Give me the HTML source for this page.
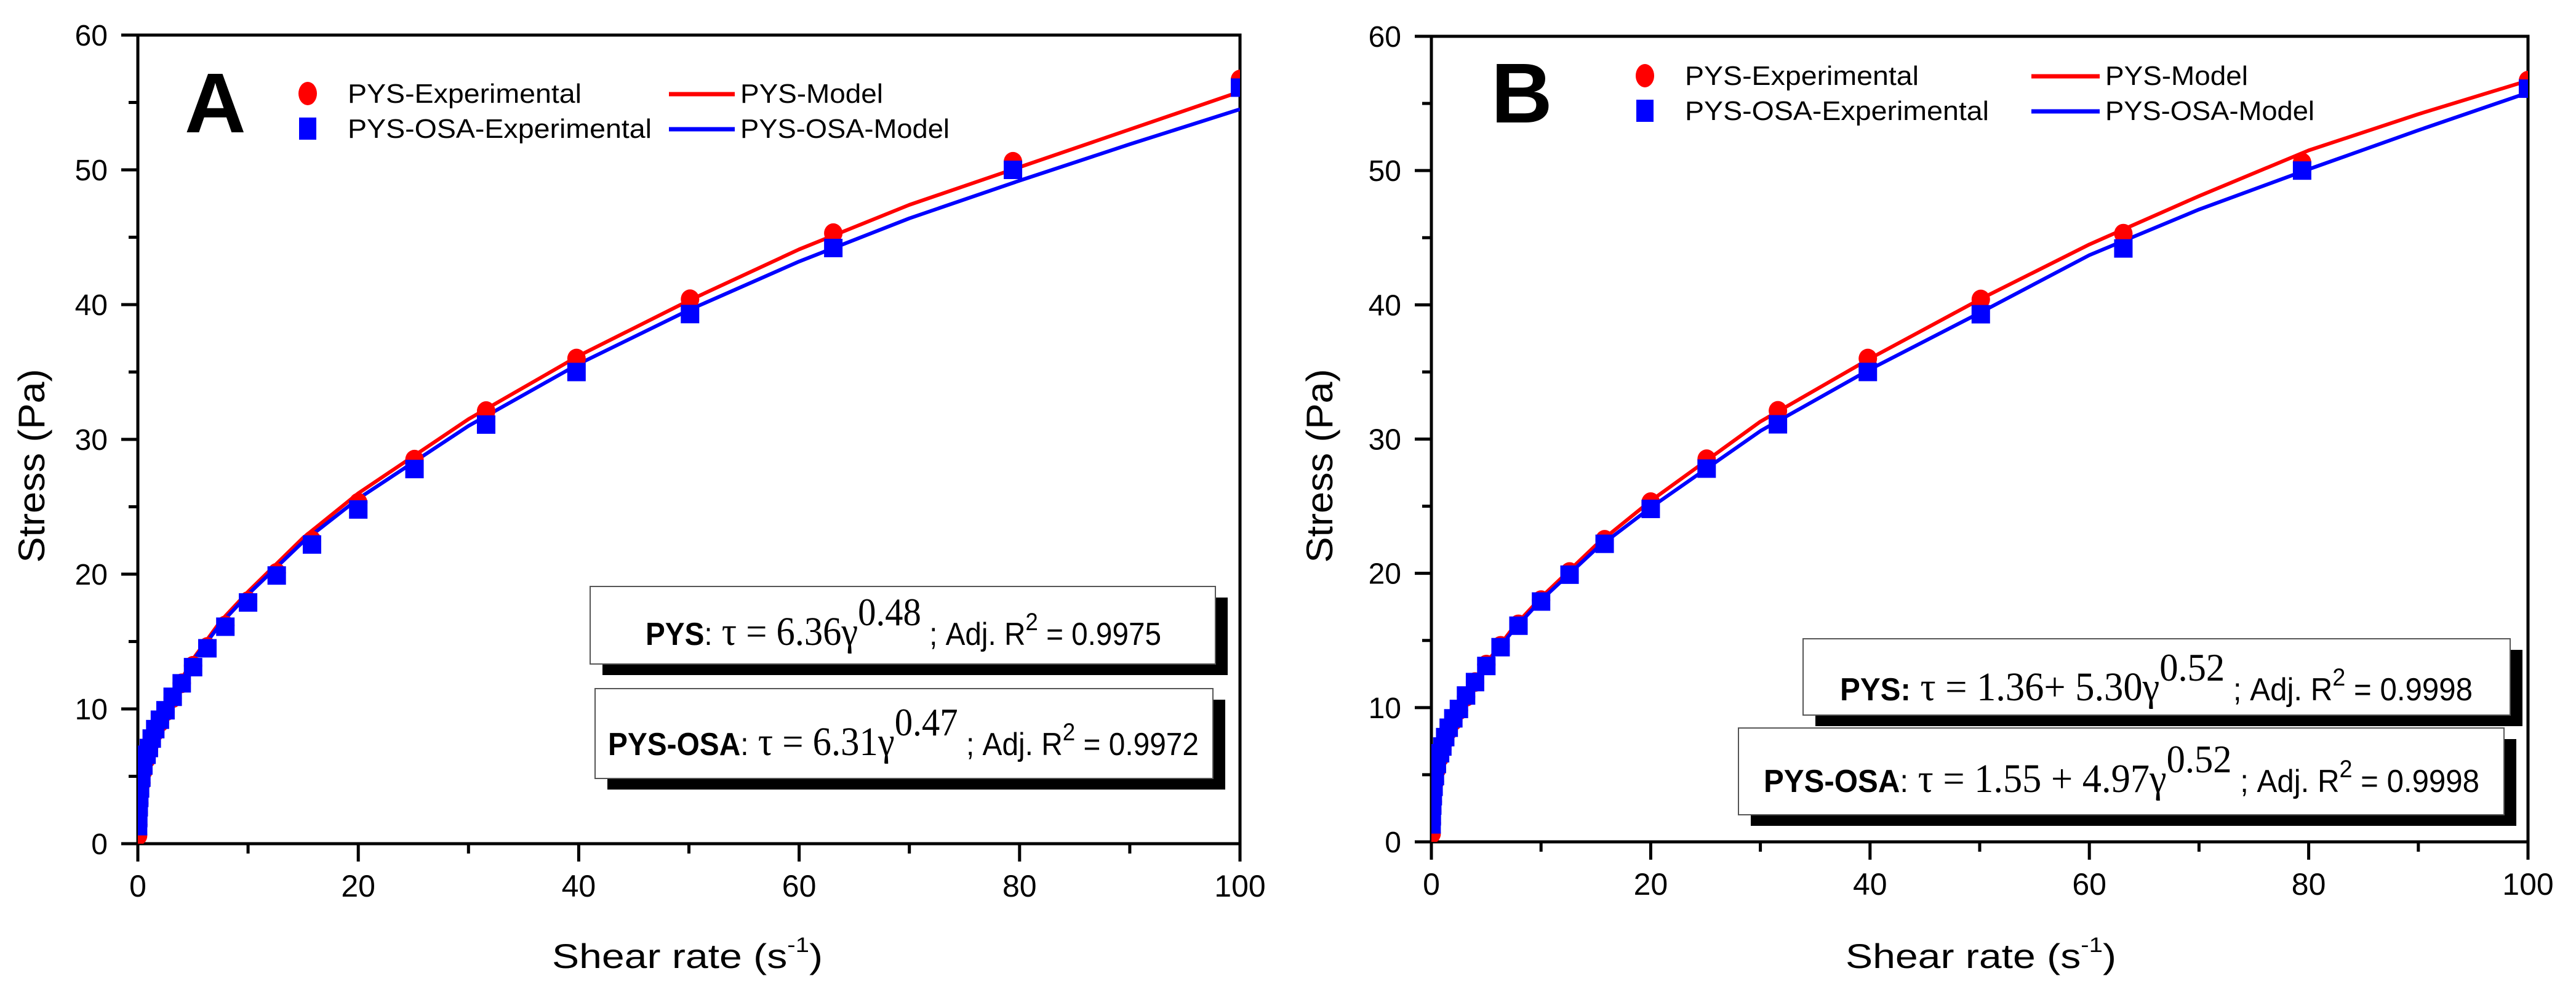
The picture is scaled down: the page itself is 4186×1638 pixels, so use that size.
<!DOCTYPE html>
<html><head><meta charset="utf-8"><style>
html,body{margin:0;padding:0;background:#fff;}
svg{display:block;}
text{font-family:"Liberation Sans",Arial,sans-serif;fill:#000;}
.tm{font-family:"Liberation Serif","Times New Roman",serif;}
</style></head><body>
<svg id="chart" xmlns="http://www.w3.org/2000/svg" width="4186" height="1638" viewBox="0 0 4186 1638">
<rect width="4186" height="1638" fill="#fff"/>
<defs>
<clipPath id="clipA"><rect x="224" y="57" width="1791" height="1314"/></clipPath>
<clipPath id="clipB"><rect x="2326" y="59" width="1782" height="1309"/></clipPath>
</defs>
<g id="panelA"></g>
<g id="panelB"></g>
</svg>
<script>
// ---- data ----
const xTicks = [0, 20, 40, 60, 80, 100];
const yTicks = [0, 10, 20, 30, 40, 50, 60];
const expShear = [0.02,0.04,0.08,0.13,0.2,0.32,0.5,0.79,1,1.26,1.58,2,2.51,3.16,3.98,5.01,6.31,7.94,10,12.6,15.8,20,25.1,31.6,39.8,50.1,63.1,79.4,100];
const pysExp = [0.6,1.4,2.3,3.0,3.7,4.5,5.4,6.3,6.9,7.6,8.3,9.0,9.8,10.8,11.9,13.2,14.6,16.2,18.0,20.1,22.5,25.3,28.5,32.1,36.0,40.4,45.3,50.6,56.7];
const osaExp = [1.3,1.9,2.7,3.4,4.1,4.9,5.8,6.6,7.1,7.8,8.5,9.2,9.9,10.9,11.9,13.1,14.5,16.1,17.9,19.9,22.2,24.8,27.8,31.1,35.0,39.3,44.2,50.0,56.1];
const modelShear = [0,0.02,0.1,0.3,0.6,1,2,3,5,7.5,10,15,20,30,40,50,60,70,80,90,100];
const pysModelA = [0,1.0,2.1,3.6,5.0,6.4,8.9,10.8,13.7,16.5,18.7,22.7,26.0,31.5,36.2,40.3,44.1,47.4,50.2,53.0,55.8];
const osaModelA = [0,1.0,2.1,3.6,5.0,6.4,8.8,10.7,13.6,16.3,18.5,22.4,25.6,31.0,35.6,39.6,43.2,46.4,49.2,51.9,54.5];
const pysModelB = [1.4,1.9,2.9,4.0,5.2,6.6,8.9,10.6,13.3,16.0,18.2,22.1,25.4,31.3,36.0,40.4,44.5,48.1,51.5,54.2,56.7];
const osaModelB = [1.5,2.0,3.0,4.1,5.3,6.7,8.9,10.6,13.2,15.8,18.0,21.8,24.9,30.6,35.2,39.4,43.7,47.1,50.1,53.0,55.8];

const NS = "http://www.w3.org/2000/svg";
function mk(parent, tag, attrs, txt){
  const e = document.createElementNS(NS, tag);
  for (const k in attrs) e.setAttribute(k, attrs[k]);
  if (txt !== undefined) e.textContent = txt;
  parent.appendChild(e);
  return e;
}

function drawPanel(g, P){
  const sx = v => P.x0 + (v - 0) / 100 * (P.x1 - P.x0);
  const sy = v => P.yb - (v - 0) / 60 * (P.yb - P.yt);
  const fr = mk(g,'rect',{x:P.x0,y:P.yt,width:P.x1-P.x0,height:P.yb-P.yt,fill:'none',stroke:'#000','stroke-width':5});
  
  
  for (let v=0; v<=100; v+=10){
    const major = v % 20 === 0;
    const t = mk(g,'line',{x1:sx(v),x2:sx(v),y1:P.yb,y2:P.yb+(major?29:16),stroke:'#000','stroke-width':5});
    
    
  }
  xTicks.forEach(v=>{
    const t = mk(g,'text',{x:sx(v),y:P.yb+86,'font-size':50,'text-anchor':'middle'},String(v));
    
    
  });
  for (let v=0; v<=60; v+=5){
    const major = v % 10 === 0;
    const t = mk(g,'line',{x1:P.x0-(major?27:15),x2:P.x0,y1:sy(v),y2:sy(v),stroke:'#000','stroke-width':5});
    
    
  }
  yTicks.forEach(v=>{
    const t = mk(g,'text',{x:P.x0-49,y:sy(v)+17,'font-size':48,'text-anchor':'end'},String(v));
    
    
  });
  const xt = mk(g,'text',{x:P.xtx,y:1573,'font-size':56,textLength:440,lengthAdjust:'spacingAndGlyphs'});
  
  
  mk(xt,'tspan',{},'Shear rate (s');
  mk(xt,'tspan',{dy:-26,'font-size':34},'-1');
  mk(xt,'tspan',{dy:26},')');
  const yt = mk(g,'text',{x:0,y:0,'font-size':60,'text-anchor':'middle',textLength:315,lengthAdjust:'spacingAndGlyphs',transform:`translate(${P.ytx},757) rotate(-90)`},'Stress (Pa)');
  
  

  const clip = mk(g,'g',{'clip-path':`url(#${P.clip})`});
  
  
  const path = arr => modelShear.map((x,i)=>(i?'L':'M')+sx(x).toFixed(1)+','+sy(arr[i]).toFixed(1)).join(' ');
  const lr = mk(clip,'path',{d:path(P.pysM),fill:'none',stroke:'#ff0000','stroke-width':6,'stroke-linejoin':'round'});
  
  
  const lb = mk(clip,'path',{d:path(P.osaM),fill:'none',stroke:'#0000ff','stroke-width':6,'stroke-linejoin':'round'});
  
  
  expShear.forEach((x,i)=>{
    const c = mk(clip,'ellipse',{cx:sx(x),cy:sy(pysExp[i]),rx:15,ry:16,fill:'#ff0000'});
    
    
  });
  expShear.forEach((x,i)=>{
    const s = mk(clip,'rect',{x:sx(x)-15,y:sy(osaExp[i])-15,width:30,height:30,fill:'#0000ff'});
    
    
  });

  const L = mk(g,'text',{x:P.letX,y:P.letY,'font-size':138,'font-weight':'bold'},P.letter);
  
  

  const lg = mk(g,'g',{});
  
  
  const m = P.mx, r1 = P.r1, r2 = P.r1+57;
  const e1 = mk(lg,'ellipse',{cx:m,cy:r1,rx:15,ry:19,fill:'#ff0000'});
  
  
  const e2 = mk(lg,'rect',{x:m-14,y:r2-18,width:28,height:36,fill:'#0000ff'});
  
  
  const t1 = mk(lg,'text',{x:m+65,y:r1+15,'font-size':44,textLength:380,lengthAdjust:'spacingAndGlyphs'},'PYS-Experimental');
  
  
  const t2 = mk(lg,'text',{x:m+65,y:r2+15,'font-size':44,textLength:494,lengthAdjust:'spacingAndGlyphs'},'PYS-OSA-Experimental');
  
  
  const l1 = mk(lg,'line',{x1:P.lx1,x2:P.lx2,y1:r1+1,y2:r1+1,stroke:'#ff0000','stroke-width':7});
  
  
  const l2 = mk(lg,'line',{x1:P.lx1,x2:P.lx2,y1:r2+1,y2:r2+1,stroke:'#0000ff','stroke-width':7});
  
  
  const t3 = mk(lg,'text',{x:P.lx2+9,y:r1+15,'font-size':44,textLength:232,lengthAdjust:'spacingAndGlyphs'},'PYS-Model');
  
  
  const t4 = mk(lg,'text',{x:P.lx2+9,y:r2+15,'font-size':44,textLength:340,lengthAdjust:'spacingAndGlyphs'},'PYS-OSA-Model');
  
  

  P.boxes.forEach(b=>{
    const bg = mk(g,'g',{});
    
    
    mk(bg,'rect',{x:b.x+20,y:b.y+18,width:b.w,height:b.h,fill:'#000'});
    mk(bg,'rect',{x:b.x,y:b.y,width:b.w,height:b.h,fill:'#fff',stroke:'#555','stroke-width':2});
    const t = mk(bg,'text',{x:b.tx,y:b.ty,'font-size':52,textLength:b.tl,lengthAdjust:'spacingAndGlyphs'});
    
    
    mk(t,'tspan',{'font-weight':'bold'},b.name);
    mk(t,'tspan',{},b.colon);
    mk(t,'tspan',{class:'tm','font-size':66},' τ = '+b.eq);
    mk(t,'tspan',{class:'tm','font-size':64,dy:-32},b.exp);
    mk(t,'tspan',{dy:32},' ; Adj. R');
    mk(t,'tspan',{dy:-24,'font-size':40},'2');
    mk(t,'tspan',{dy:24},' = '+b.r2);
  });
}

drawPanel(document.getElementById('panelA'), {
  x0:224, x1:2015, yt:57, yb:1371, clip:'clipA', xtx:897, ytx:72,
  pysM:pysModelA, osaM:osaModelA, letter:'A', letX:300, letY:215,
  mx:500, r1:152, lx1:1087, lx2:1194,
  boxes:[
    {x:959,y:953,w:1016,h:126,tx:1049,ty:1048,tl:838,name:'PYS',colon:':',eq:'6.36γ',exp:'0.48',r2:'0.9975'},
    {x:967,y:1119,w:1004,h:146,tx:988,ty:1227,tl:960,name:'PYS-OSA',colon:':',eq:'6.31γ',exp:'0.47',r2:'0.9972'}
  ]
});
drawPanel(document.getElementById('panelB'), {
  x0:2326, x1:4108, yt:59, yb:1368, clip:'clipB', xtx:2999, ytx:2165,
  pysM:pysModelB, osaM:osaModelB, letter:'B', letX:2423, letY:199,
  mx:2673, r1:123, lx1:3301, lx2:3412,
  boxes:[
    {x:2930,y:1038,w:1149,h:124,tx:2990,ty:1138,tl:1028,name:'PYS:',colon:'',eq:'1.36+ 5.30γ',exp:'0.52',r2:'0.9998'},
    {x:2825,y:1183,w:1244,h:141,tx:2866,ty:1287,tl:1163,name:'PYS-OSA',colon:':',eq:'1.55 + 4.97γ',exp:'0.52',r2:'0.9998'}
  ]
});
</script>
</body></html>
